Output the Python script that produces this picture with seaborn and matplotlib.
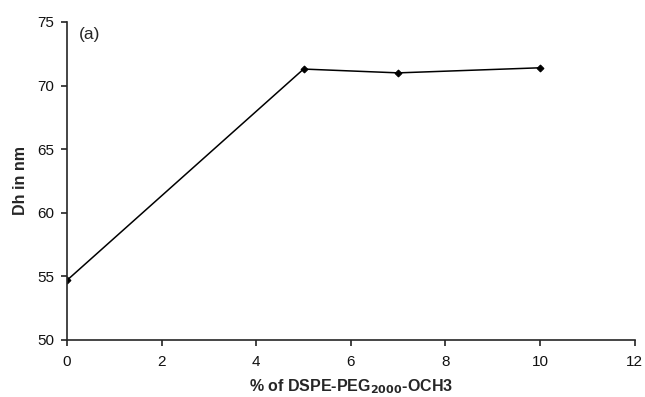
import matplotlib
matplotlib.use("Agg")
import matplotlib.pyplot as plt
import seaborn as sns
import pandas as pd

# Data
peg_percent = [0, 5, 7, 10]
dh_nm = [54.7, 71.3, 71.0, 71.4]
x_ticks = [0, 2, 4, 6, 8, 10, 12]
y_ticks = [50, 55, 60, 65, 70, 75]

df = pd.DataFrame({"peg": peg_percent, "dh": dh_nm})

sns.set_style("ticks")
plt.rcParams["font.family"] = ["Liberation Sans", "DejaVu Sans"]

fig = plt.figure(figsize=(6.45, 3.97), dpi=100)
ax = fig.add_axes([0.104, 0.1436, 0.880, 0.801])

sns.lineplot(data=df, x="peg", y="dh", ax=ax, color="black", linewidth=1.1,
             marker="D", markersize=3.5, markeredgecolor="black")

ax.set_xlim(0, 12)
ax.set_ylim(50, 75)
ax.set_xticks(x_ticks)
ax.set_yticks(y_ticks)
ax.tick_params(labelsize=11, length=4, width=1.1, colors="#111111")
ax.tick_params(axis="x", pad=7)
ax.tick_params(axis="y", pad=5)
for s in ["top", "right"]:
    ax.spines[s].set_visible(False)
for s in ["left", "bottom"]:
    ax.spines[s].set_linewidth(1.2)
    ax.spines[s].set_clip_on(False)

ax.set_xlabel(r"% of DSPE-PEG$_{\mathbf{2000}}$-OCH3", fontsize=11.5,
              fontweight="bold", labelpad=6)
ax.set_ylabel("Dh in nm", fontsize=11.5, fontweight="bold", labelpad=7)
ax.text(0.02, 0.985, "(a)", transform=ax.transAxes, fontsize=12.5,
        va="top", ha="left")

fig.savefig("out.png", dpi=100)
